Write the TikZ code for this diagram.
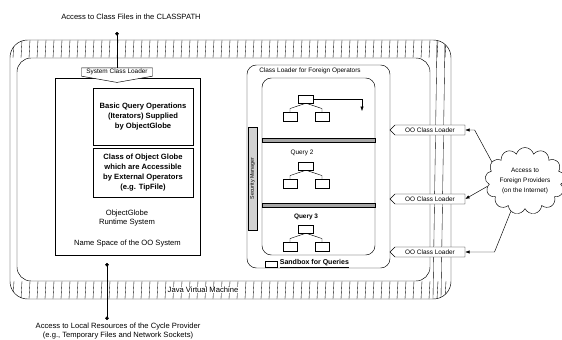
\documentclass[tikz,border=0pt]{standalone}
\usepackage{fontspec}
\setmainfont{Liberation Sans}
\usetikzlibrary{arrows.meta,positioning,shapes.symbols}

\begin{document}
\begin{tikzpicture}[
  x=0.03cm, y=-0.03cm,
  txt/.style={font=\fontsize{6.5}{8}\selectfont, align=center, inner sep=1pt},
  small/.style={font=\fontsize{5.5}{6.4}\selectfont, align=center, inner sep=1pt},
  box/.style={rectangle, draw, align=center, minimum width=3cm, inner sep=1pt, font=\bfseries\fontsize{6.5}{8.5}\selectfont},
  frame/.style={rectangle, draw},
  tab/.style={signal, draw, fill=white, small, minimum height=0.3cm},
  leaf/.style={rectangle, draw, fill=white, minimum width=0.42cm, minimum height=0.28cm, inner sep=0pt},
  bar/.style={draw, fill=gray!70},
  hatch/.style={line width=0.3pt},
  arr/.style={-{Latex[length=1.3mm, width=1mm]}},
  dots/.style={{Circle[length=3pt]}-{Circle[length=3pt]}},
]
  \useasboundingbox (0,0) rectangle (562,340);

  % java virtual machine
  \begin{scope}
    \clip[rounded corners=15pt] (10,40) rectangle (451,299);
    \foreach \x in {14,22,...,446} {
      \draw[hatch] (\x,40) -- (\x-1,58);
      \draw[hatch] (\x,281) -- (\x-1,299);
    }
    \draw[hatch] (437,40) -- (433,299);
    \draw[hatch] (445,40) -- (441,299);
  \end{scope}
  \draw[fill=white, rounded corners=12pt] (17,58) rectangle (430,281);
  \draw[rounded corners=15pt] (10,40) rectangle (451,299);
  \node[txt, fill=white, inner sep=0.5pt] (jvm) at (203,290) {Java Virtual Machine};

  % name space of the OO system
  \node[frame, minimum width=4.35cm, minimum height=5.31cm] (ns) at (127.5,166.5) {};
  \node[box, minimum height=1.71cm] (ops) at (143,116.5) {Basic Query Operations\\(Iterators) Supplied\\by ObjectGlobe};
  \node[box, minimum height=1.47cm, below=0.09cm of ops] (cls) {Class of Object Globe\\which are Accessible\\by External Operators\\(e.g. TipFile)};
  \node[txt] (rts) at (127,218) {ObjectGlobe\\Runtime System};
  \node[txt, above=0.2cm of ns.south] (nstxt) {Name Space of the OO System};
  \node[tab, signal to=south, signal pointer angle=160, minimum width=2.13cm] (scl) at (117,72) {System Class Loader};

  % access to local and class path resources
  \coordinate (cp) at (117,32);
  \draw[-{Circle[length=3pt]}] (scl.north) -- (cp);
  \node[txt] (cptxt) at (131,17) {Access to Class Files in the CLASSPATH};
  \coordinate (lr1) at (107,263);
  \coordinate (lr2) at (107,320);
  \draw[dots] (lr1) -- (lr2);
  \node[txt, font=\fontsize{6.5}{7}\selectfont] (lrtxt) at (118,331) {Access to Local Resources of the Cycle Provider\\(e.g., Temporary Files and Network Sockets)};

  % class loader for foreign operators
  \node[frame, rounded corners=8pt, minimum width=4.29cm, minimum height=6.09cm] (fo) at (318.5,166.5) {};
  \node[small] (fotxt) at (310,71) {Class Loader for Foreign Operators};
  \node[frame, rounded corners=8pt, minimum width=3.39cm, minimum height=5.31cm] (sb) at (318.5,166.5) {};
  \draw[bar] (262,138) rectangle (375,142);
  \draw[bar] (262,203) rectangle (375,207);
  \node[draw, fill=gray!35, rotate=90, minimum width=3.09cm, minimum height=0.27cm, inner sep=0pt, font=\fontsize{4.5}{5}\selectfont] (sec) at (252.5,178.5) {Security Manager};

  % queries
  \foreach \i/\y in {1/99,2/166,3/229} {
    \node[leaf, minimum width=0.45cm, minimum height=0.24cm] (qr\i) at (306,\y) {};
    \node[leaf] (ql\i) at (290,\y+18) {};
    \node[leaf] (qs\i) at (322,\y+18) {};
    \draw (qr\i.south) -- ([yshift=3pt]ql\i.north) -- (ql\i.north);
    \draw (qr\i.south) -- ([yshift=3pt]qs\i.north) -- (qs\i.north);
  }
  \node[small] (q2) at (302,153) {Query 2};
  \node[small, font=\bfseries\fontsize{5.5}{6.4}\selectfont] (q3) at (306,217) {Query 3};
  \coordinate (qout) at (362,111);
  \draw[arr] (qr1.east) -| (qout);

  \node[draw, fill=white, minimum width=0.36cm, minimum height=0.18cm, inner sep=0pt] (sbkey) at (271,264) {};
  \node[small, font=\bfseries\fontsize{6}{7}\selectfont, right=1pt of sbkey] (sbtxt) {\underline{Sandbox for Queries}};

  % OO class loaders and foreign providers
  \foreach \i/\y in {1/130,2/199,3/252}
    \node[tab, signal to=west, minimum width=2.25cm] (ol\i) at (430,\y) {OO Class Loader};
  \node[cloud, draw, cloud puffs=13, aspect=1.3, small, minimum width=2.16cm, minimum height=1.65cm, inner sep=0pt, font=\fontsize{5.5}{8.5}\selectfont] (web) at (525,181) {Access to\\Foreign Providers\\(on the Internet)};
  \draw[arr] (web.150) -- ([xshift=8pt]ol1.east) -- (ol1.east);
  \draw[arr] (web.188) -- (ol2.east);
  \draw[arr] (web.245) -- ([xshift=25pt]ol3.east) -- (ol3.east);
\end{tikzpicture}
\end{document}
